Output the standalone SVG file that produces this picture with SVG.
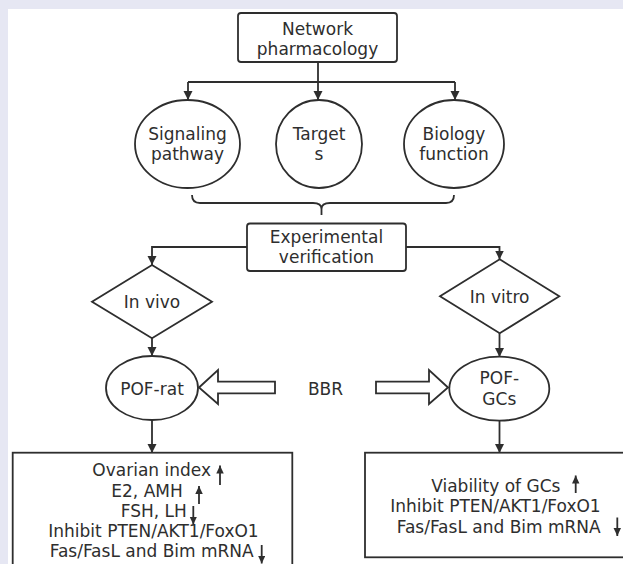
<svg xmlns="http://www.w3.org/2000/svg" width="623" height="564" viewBox="0 0 623 564">
<style>
.ln{fill:none;stroke:#2e2e2e;stroke-width:1.8}
.sh{fill:#fff;stroke:#2e2e2e;stroke-width:1.8}
.t{font-family:"DejaVu Sans","Open Sans",sans-serif;font-size:17px;fill:#2e2e2e;text-anchor:middle}
.sa{fill:none;stroke:#2e2e2e;stroke-width:1.8}
</style>
<defs>
<marker id="ah" markerUnits="userSpaceOnUse" markerWidth="10" markerHeight="10" refX="9" refY="4.5" orient="auto">
<path d="M0,0 L9,4.5 L0,9 z" fill="#2e2e2e"/>
</marker>
<marker id="sa" markerUnits="userSpaceOnUse" markerWidth="9" markerHeight="9" refX="8" refY="3.75" orient="auto">
<path d="M0,0 L8,3.75 L0,7.5 z" fill="#2e2e2e"/>
</marker>
</defs>
<rect x="0" y="0" width="623" height="564" fill="#e6e7f3"/>
<rect x="8" y="9" width="615" height="555" fill="#ffffff"/>

<g id="connectors">
<path class="ln" d="M318,62 V100" marker-end="url(#ah)"/>
<path class="ln" d="M188,82 H455"/>
<path class="ln" d="M188,82 V100" marker-end="url(#ah)"/>
<path class="ln" d="M455,82 V100" marker-end="url(#ah)"/>
<path class="ln" d="M192,195 Q192,203 200,203 L313,203 Q321.5,203 321.5,209 L321.5,215 M321.5,209 Q321.5,203 330,203 L446,203 Q454,203 454,195"/>
<path class="ln" d="M247,247 H152 V265" marker-end="url(#ah)"/>
<path class="ln" d="M406,247 H499.5 V259.5" marker-end="url(#ah)"/>
<path class="ln" d="M152,338 V356" marker-end="url(#ah)"/>
<path class="ln" d="M499.5,333 V357" marker-end="url(#ah)"/>
<path class="ln" d="M152,420 V453" marker-end="url(#ah)"/>
<path class="ln" d="M499.5,421 V453" marker-end="url(#ah)"/>
<polygon class="sh" points="199,387.5 218,370 218,381.7 275,381.7 275,393.3 218,393.3 218,404"/>
<polygon class="sh" points="448,387.5 429,370 429,381.7 376,381.7 376,393.3 429,393.3 429,404"/>
</g>

<g id="network-pharmacology">
<rect class="sh" x="238" y="13" width="159" height="49" rx="3"/>
<text class="t" x="317.5" y="34.5">Network</text>
<text class="t" x="317.5" y="54.5">pharmacology</text>
</g>

<g id="signaling-pathway">
<ellipse class="sh" cx="187.5" cy="144" rx="52.5" ry="44"/>
<text class="t" x="187.5" y="140">Signaling</text>
<text class="t" x="187.5" y="160">pathway</text>
</g>

<g id="targets">
<ellipse class="sh" cx="319" cy="144" rx="43" ry="44"/>
<text class="t" x="319" y="140">Target</text>
<text class="t" x="319" y="160">s</text>
</g>

<g id="biology-function">
<ellipse class="sh" cx="454" cy="144" rx="50" ry="44"/>
<text class="t" x="454" y="140">Biology</text>
<text class="t" x="454" y="160">function</text>
</g>

<g id="experimental-verification">
<rect class="sh" x="247" y="223.5" width="159" height="47.5" rx="3"/>
<text class="t" x="326.5" y="243">Experimental</text>
<text class="t" x="326.5" y="263">verification</text>
</g>

<g id="in-vivo">
<polygon class="sh" points="152,265 212,301.7 152,338.3 92,301.7"/>
<text class="t" x="152" y="308">In vivo</text>
</g>

<g id="in-vitro">
<polygon class="sh" points="499.7,259.3 559.3,296.3 499.7,333.3 440,296.3"/>
<text class="t" x="499.7" y="302.5">In vitro</text>
</g>

<g id="pof-rat">
<ellipse class="sh" cx="152" cy="388" rx="46" ry="32"/>
<text class="t" x="152" y="394.5">POF-rat</text>
</g>

<g id="bbr">
<text class="t" x="325.5" y="394.5">BBR</text>
</g>

<g id="pof-gcs">
<ellipse class="sh" cx="499.3" cy="388.7" rx="50" ry="32"/>
<text class="t" x="499.3" y="384">POF-</text>
<text class="t" x="499.3" y="405">GCs</text>
</g>

<g id="in-vivo-results">
<rect class="sh" x="12.7" y="452.7" width="279.6" height="120"/>
<text class="t" x="151.7" y="476">Ovarian index</text>
<text class="t" x="147" y="496.5">E2, AMH</text>
<text class="t" x="153.8" y="516.7">FSH, LH</text>
<text class="t" x="153.5" y="537">Inhibit PTEN/AKT1/FoxO1</text>
<text class="t" x="151.7" y="557.3">Fas/FasL and Bim mRNA</text>
<path class="sa" d="M220,485 V465.5" marker-end="url(#sa)"/>
<path class="sa" d="M199,504 V486" marker-end="url(#sa)"/>
<path class="sa" d="M193.3,506 V524.5" marker-end="url(#sa)"/>
<path class="sa" d="M261.7,545 V563.5" marker-end="url(#sa)"/>
</g>

<g id="in-vitro-results">
<rect class="sh" x="365" y="452.7" width="262" height="104.6"/>
<text class="t" x="495.8" y="491.5">Viability of GCs</text>
<text class="t" x="495.5" y="512">Inhibit PTEN/AKT1/FoxO1</text>
<text class="t" x="498.7" y="532.5">Fas/FasL and Bim mRNA</text>
<path class="sa" d="M575.7,493 V475.5" marker-end="url(#sa)"/>
<path class="sa" d="M617.3,517.5 V536" marker-end="url(#sa)"/>
</g>
</svg>
